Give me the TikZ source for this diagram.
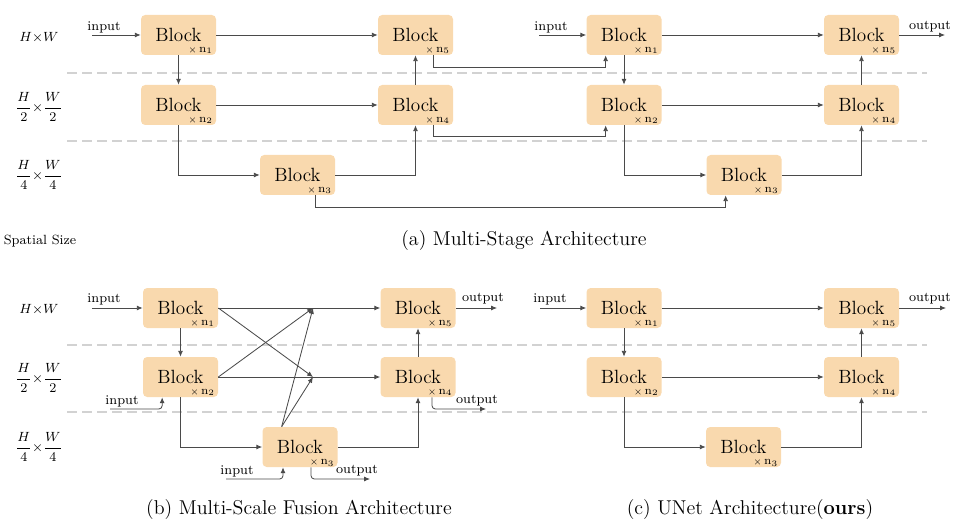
\documentclass[tikz,border=0pt]{standalone}
\usetikzlibrary{arrows.meta}

\definecolor{blockfill}{HTML}{F9D9AE}
\definecolor{wire}{HTML}{4A4A4A}

\tikzset{
    block/.style 2 args={fill=blockfill, rounded corners=2.5pt, minimum width=45pt,
        minimum height=24pt, inner sep=0pt, font=\fontsize{11.5}{13}\selectfont,
        label={[count, name=#1n]south east:$\scriptscriptstyle\times$\,n$_{#2}$}},
    count/.style={anchor=south east, inner sep=0.6pt, xshift=-1.2pt, font=\scriptsize},
    io/.style={font=\footnotesize, inner sep=0pt},
    sizelabel/.style={font=\footnotesize, inner sep=0pt},
    subcap/.style={font=\large, inner sep=0pt},
    levelsep/.style={draw=gray!35, line width=0.8pt, dash pattern=on 6pt off 3pt},
    arr/.style={draw=wire, line width=0.5pt, -{Latex[length=3.5pt, width=3pt]}},
    elbow/.style={arr, rounded corners=2pt},
}

\begin{document}
\begin{tikzpicture}[x=0.6pt, y=-0.6pt]
        \useasboundingbox (0, 0) rectangle (971, 527);

        % spatial sizes
        \draw[levelsep] (67, 73)  -- (927, 73);
        \draw[levelsep] (67, 141) -- (927, 141);
        \draw[levelsep] (67, 345) -- (927, 345);
        \draw[levelsep] (67, 412) -- (927, 412);

        \node[sizelabel] at (39, 38)  (r1a) {$H{\times}W$};
        \node[sizelabel] at (39, 107) (r2a) {$\displaystyle\frac{H}{2}{\times}\frac{W}{2}$};
        \node[sizelabel] at (39, 175) (r3a) {$\displaystyle\frac{H}{4}{\times}\frac{W}{4}$};
        \node[sizelabel] at (39, 310) (r1b) {$H{\times}W$};
        \node[sizelabel] at (39, 378) (r2b) {$\displaystyle\frac{H}{2}{\times}\frac{W}{2}$};
        \node[sizelabel] at (39, 447) (r3b) {$\displaystyle\frac{H}{4}{\times}\frac{W}{4}$};
        \node[font=\footnotesize, inner sep=0pt] at (40, 241) (spatial) {Spatial Size};

        % (a) multi-stage
        \node[block={s1}{1}] at (178.5, 35)  (s1) {Block};
        \node[block={s2}{2}] at (178.5, 105) (s2) {Block};
        \node[block={s3}{3}] at (297.5, 175) (s3) {Block};
        \node[block={s4}{4}] at (415.5, 105) (s4) {Block};
        \node[block={s5}{5}] at (415.5, 35)  (s5) {Block};

        \node[block={t1}{1}] at (624, 35)    (t1) {Block};
        \node[block={t2}{2}] at (624, 105)   (t2) {Block};
        \node[block={t3}{3}] at (744, 175)   (t3) {Block};
        \node[block={t4}{4}] at (861.5, 105) (t4) {Block};
        \node[block={t5}{5}] at (861.5, 35)  (t5) {Block};

        \coordinate (s1in) at (92, 35);
        \node[io] at (104, 27) (s1intext) {input};
        \coordinate (t1in) at (539, 35);
        \node[io] at (551, 27) (t1intext) {input};
        \coordinate (t5out) at (945, 35);
        \node[io] at (930, 27) (t5outtext) {output};

        \draw[arr] (s1in) -- (s1);
        \draw[arr] (s1) -- (s5);
        \draw[arr] (s1) -- (s2);
        \draw[arr] (s2) -- (s4);
        \draw[arr] (s2) |- (s3);
        \draw[arr] (s3) -| (s4);
        \draw[arr] (s4) -- (s5);

        \draw[arr] ([xshift=11pt]s5.south) -- ++(0, 12) -| ([xshift=-11pt]t1.south);
        \draw[arr] ([xshift=11pt]s4.south) -- ++(0, 11) -| ([xshift=-11pt]t2.south);
        \draw[arr] ([xshift=11pt]s3.south) -- ++(0, 12) -| ([xshift=-11pt]t3.south);

        \draw[arr] (t1in) -- (t1);
        \draw[arr] (t1) -- (t5);
        \draw[arr] (t1) -- (t2);
        \draw[arr] (t2) -- (t4);
        \draw[arr] (t2) |- (t3);
        \draw[arr] (t3) -| (t4);
        \draw[arr] (t4) -- (t5);
        \draw[arr] (t5) -- (t5out);

        \node[subcap] at (524, 241) (capa) {(a) Multi-Stage Architecture};

        % (b) multi-scale fusion
        \node[block={f1}{1}] at (180.5, 308) (f1) {Block};
        \node[block={f2}{2}] at (180.5, 377) (f2) {Block};
        \node[block={f3}{3}] at (300, 447)   (f3) {Block};
        \node[block={f4}{4}] at (418, 377)   (f4) {Block};
        \node[block={f5}{5}] at (418, 308)   (f5) {Block};

        \coordinate (j1) at (313, 308);
        \coordinate (j2) at (313, 377);

        \coordinate (f1in) at (92, 308);
        \node[io] at (104, 299) (f1intext) {input};
        \coordinate (f2in) at (110, 409);
        \node[io] at (122, 401) (f2intext) {input};
        \coordinate (f3in) at (226, 479);
        \node[io] at (237, 471) (f3intext) {input};
        \coordinate (f5out) at (497, 308);
        \node[io] at (483, 299) (f5outtext) {output};
        \coordinate (f4out) at (486, 409);
        \node[io] at (477, 401) (f4outtext) {output};
        \coordinate (f3out) at (370, 479);
        \node[io] at (357, 471) (f3outtext) {output};

        \draw[arr] (f1in) -- (f1);
        \draw[arr] (f1) -- (f5);
        \draw[arr] (f2) -- (f4);
        \draw[arr] (f1.east) -- (j2);
        \draw[arr] (f2.east) -- (j1);
        \draw[arr] ([xshift=-11pt]f3.north) -- (j1);
        \draw[arr] ([xshift=-11pt]f3.north) -- (j2);
        \draw[arr] (f1) -- (f2);
        \draw[arr] (f2) |- (f3);
        \draw[arr] (f3) -| (f4);
        \draw[arr] (f4) -- (f5);
        \draw[arr] (f5) -- (f5out);

        \draw[elbow] ([xshift=8.4pt]f4.south) |- (f4out);
        \draw[elbow] ([xshift=6.6pt]f3.south) |- (f3out);
        \draw[elbow] (f2in) -| ([xshift=-11pt]f2.south);
        \draw[elbow] (f3in) -| ([xshift=-10.2pt]f3.south);

        \node[subcap] at (299, 510) (capb) {(b) Multi-Scale Fusion Architecture};

        % (c) unet
        \node[block={u1}{1}] at (624, 308)   (u1) {Block};
        \node[block={u2}{2}] at (624, 377)   (u2) {Block};
        \node[block={u3}{3}] at (743.5, 447) (u3) {Block};
        \node[block={u4}{4}] at (861.5, 377) (u4) {Block};
        \node[block={u5}{5}] at (861.5, 308) (u5) {Block};

        \coordinate (u1in) at (540, 308);
        \node[io] at (550, 299) (u1intext) {input};
        \coordinate (u5out) at (946, 308);
        \node[io] at (930, 299) (u5outtext) {output};

        \draw[arr] (u1in) -- (u1);
        \draw[arr] (u1) -- (u5);
        \draw[arr] (u1) -- (u2);
        \draw[arr] (u2) -- (u4);
        \draw[arr] (u2) |- (u3);
        \draw[arr] (u3) -| (u4);
        \draw[arr] (u4) -- (u5);
        \draw[arr] (u5) -- (u5out);

        \node[subcap] at (750, 510) (capc) {(c) UNet Architecture(\textbf{ours})};

    \end{tikzpicture}
\end{document}
